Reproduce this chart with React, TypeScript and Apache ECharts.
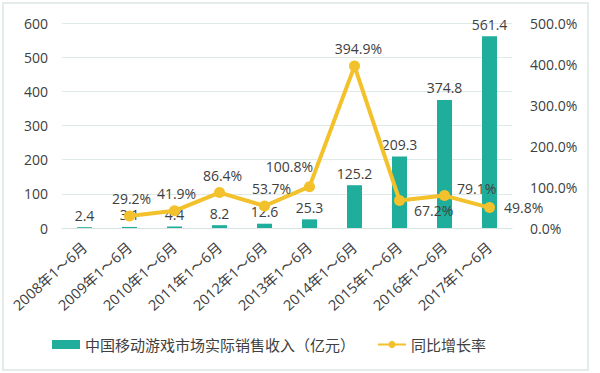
import React, { useEffect, useRef } from "react";
import * as echarts from "echarts";

const categories = [
  "2008年1～6月",
  "2009年1～6月",
  "2010年1～6月",
  "2011年1～6月",
  "2012年1～6月",
  "2013年1～6月",
  "2014年1～6月",
  "2015年1～6月",
  "2016年1～6月",
  "2017年1～6月",
];
const revenue = [2.4, 3.1, 4.4, 8.2, 12.6, 25.3, 125.2, 209.3, 374.8, 561.4];
const growth: (number | null)[] = [null, 29.2, 41.9, 86.4, 53.7, 100.8, 394.9, 67.2, 79.1, 49.8];
// label placement for each growth point: [position, offsetX, offsetY]
const growthLabelPlacement: [string, number, number][] = [
  ["top", 0, 0],
  ["top", 2, 0],
  ["top", 2, 0],
  ["top", 3, 0],
  ["top", 7, 0],
  ["top", -20, -3],
  ["top", 4, 0],
  ["right", 4, 10],
  ["right", 2, -7],
  ["right", 4, 0],
];

const seriesNames = ["中国移动游戏市场实际销售收入（亿元）", "同比增长率"];
const FONT = "'Open Sans', 'Noto Sans CJK SC', sans-serif";
const TEXT = "#404040";
const TEAL = "#1fae9b";
const GOLD = "#f3c12b";

export default function App() {
  const ref = useRef<HTMLDivElement>(null);
  useEffect(() => {
    if (!ref.current) return;
    const chart = echarts.init(ref.current, null, { renderer: "svg" });
    chart.setOption({
      animation: false,
      textStyle: { fontFamily: FONT },
      graphic: [
        {
          type: "rect",
          shape: { x: 3, y: 3, width: 585, height: 367 },
          style: { fill: "none", stroke: "#dce7e5", lineWidth: 1.5 },
          silent: true,
        },
      ],
      grid: { left: 62, right: 88, top: 23, bottom: 145 },
      legend: {
        left: 47,
        top: 332,
        itemGap: 22,
        itemWidth: 28,
        itemHeight: 9,
        textStyle: { fontSize: 15, color: TEXT, fontFamily: FONT },
        data: [
          { name: seriesNames[0], icon: "rect" },
          { name: seriesNames[1] },
        ],
      },
      xAxis: {
        type: "category",
        data: categories,
        axisTick: { show: false },
        axisLine: { lineStyle: { color: "#d9e3e1", width: 1 } },
        axisLabel: {
          rotate: 42,
          interval: 0,
          fontSize: 14.5,
          color: TEXT,
          margin: 17,
          fontFamily: FONT,
        },
      },
      yAxis: [
        {
          type: "value",
          min: 0,
          max: 600,
          interval: 100,
          axisLine: { show: false },
          axisTick: { show: false },
          splitLine: { lineStyle: { color: "#dfe9e7", width: 1 } },
          axisLabel: { fontSize: 14, color: TEXT, margin: 14, fontFamily: FONT },
        },
        {
          type: "value",
          min: 0,
          max: 500,
          interval: 100,
          axisLine: { show: false },
          axisTick: { show: false },
          splitLine: { show: false },
          axisLabel: {
            fontSize: 14,
            color: TEXT,
            margin: 18,
            fontFamily: FONT,
            formatter: (v: number) => v.toFixed(1) + "%",
          },
        },
      ],
      series: [
        {
          name: seriesNames[0],
          type: "bar",
          data: revenue,
          barWidth: 15,
          itemStyle: { color: TEAL },
          label: {
            show: true,
            position: "top",
            distance: 5,
            fontSize: 14,
            color: TEXT,
            fontFamily: FONT,
          },
        },
        {
          name: seriesNames[1],
          type: "line",
          yAxisIndex: 1,
          data: growth.map((v, i) => ({
            value: v,
            label: {
              position: growthLabelPlacement[i][0],
              offset: [growthLabelPlacement[i][1], growthLabelPlacement[i][2]],
            },
          })),
          symbol: "circle",
          symbolSize: 11,
          lineStyle: { color: GOLD, width: 4 },
          itemStyle: { color: GOLD },
          label: {
            show: true,
            distance: 5,
            fontSize: 14,
            color: TEXT,
            fontFamily: FONT,
            formatter: (p: any) => (p.value == null ? "" : Number(p.value).toFixed(1) + "%"),
          },
        },
      ],
    });
    return () => chart.dispose();
  }, []);
  return (
    <div
      ref={ref}
      style={{ position: "fixed", left: 0, top: 0, width: 600, height: 373, background: "#fff" }}
    />
  );
}
